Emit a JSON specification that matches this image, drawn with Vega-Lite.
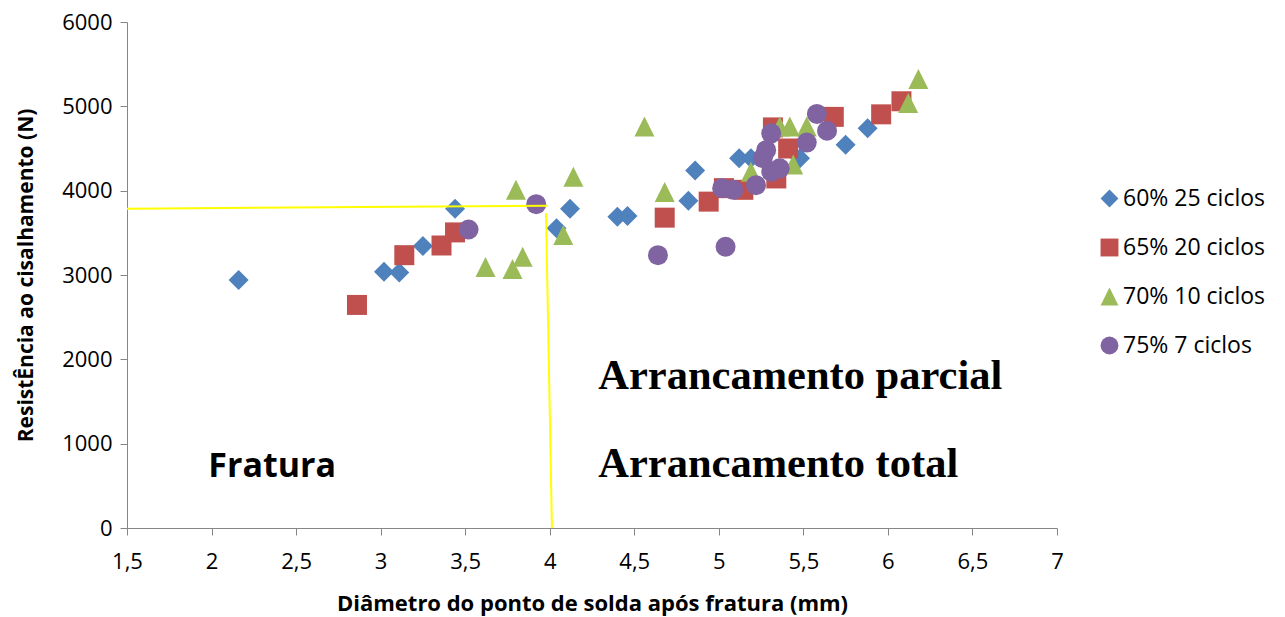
{
  "$schema": "https://vega.github.io/schema/vega-lite/v6.json",
  "width": 930,
  "height": 506,
  "autosize": {"type": "none"},
  "padding": {"left": 127, "top": 22, "right": 228, "bottom": 89},
  "background": "white",
  "config": {"view": {"stroke": null}, "font": "Open Sans"},
  "datasets": {
    "pontos": [
      {"serie": "60% 25 ciclos", "diametro": 2.16, "resistencia": 2940},
      {"serie": "60% 25 ciclos", "diametro": 3.02, "resistencia": 3040},
      {"serie": "60% 25 ciclos", "diametro": 3.11, "resistencia": 3030},
      {"serie": "60% 25 ciclos", "diametro": 3.25, "resistencia": 3345},
      {"serie": "60% 25 ciclos", "diametro": 3.44, "resistencia": 3785},
      {"serie": "60% 25 ciclos", "diametro": 4.04, "resistencia": 3555},
      {"serie": "60% 25 ciclos", "diametro": 4.12, "resistencia": 3785},
      {"serie": "60% 25 ciclos", "diametro": 4.40, "resistencia": 3690},
      {"serie": "60% 25 ciclos", "diametro": 4.46, "resistencia": 3700},
      {"serie": "60% 25 ciclos", "diametro": 4.82, "resistencia": 3880},
      {"serie": "60% 25 ciclos", "diametro": 4.86, "resistencia": 4240},
      {"serie": "60% 25 ciclos", "diametro": 5.12, "resistencia": 4385},
      {"serie": "60% 25 ciclos", "diametro": 5.19, "resistencia": 4385},
      {"serie": "60% 25 ciclos", "diametro": 5.48, "resistencia": 4385},
      {"serie": "60% 25 ciclos", "diametro": 5.75, "resistencia": 4545},
      {"serie": "60% 25 ciclos", "diametro": 5.88, "resistencia": 4740},
      {"serie": "65% 20 ciclos", "diametro": 2.86, "resistencia": 2645},
      {"serie": "65% 20 ciclos", "diametro": 3.14, "resistencia": 3235},
      {"serie": "65% 20 ciclos", "diametro": 3.36, "resistencia": 3350},
      {"serie": "65% 20 ciclos", "diametro": 3.44, "resistencia": 3505},
      {"serie": "65% 20 ciclos", "diametro": 4.68, "resistencia": 3680},
      {"serie": "65% 20 ciclos", "diametro": 4.94, "resistencia": 3870},
      {"serie": "65% 20 ciclos", "diametro": 5.03, "resistencia": 4030},
      {"serie": "65% 20 ciclos", "diametro": 5.145, "resistencia": 4010},
      {"serie": "65% 20 ciclos", "diametro": 5.34, "resistencia": 4145},
      {"serie": "65% 20 ciclos", "diametro": 5.32, "resistencia": 4750},
      {"serie": "65% 20 ciclos", "diametro": 5.41, "resistencia": 4500},
      {"serie": "65% 20 ciclos", "diametro": 5.68, "resistencia": 4875},
      {"serie": "65% 20 ciclos", "diametro": 5.96, "resistencia": 4905},
      {"serie": "65% 20 ciclos", "diametro": 6.08, "resistencia": 5060},
      {"serie": "70% 10 ciclos", "diametro": 3.62, "resistencia": 3095},
      {"serie": "70% 10 ciclos", "diametro": 3.78, "resistencia": 3070},
      {"serie": "70% 10 ciclos", "diametro": 3.80, "resistencia": 4010},
      {"serie": "70% 10 ciclos", "diametro": 3.84, "resistencia": 3215},
      {"serie": "70% 10 ciclos", "diametro": 4.08, "resistencia": 3475},
      {"serie": "70% 10 ciclos", "diametro": 4.14, "resistencia": 4165},
      {"serie": "70% 10 ciclos", "diametro": 4.56, "resistencia": 4760},
      {"serie": "70% 10 ciclos", "diametro": 4.68, "resistencia": 3985},
      {"serie": "70% 10 ciclos", "diametro": 5.19, "resistencia": 4225},
      {"serie": "70% 10 ciclos", "diametro": 5.36, "resistencia": 4760},
      {"serie": "70% 10 ciclos", "diametro": 5.42, "resistencia": 4760},
      {"serie": "70% 10 ciclos", "diametro": 5.52, "resistencia": 4760},
      {"serie": "70% 10 ciclos", "diametro": 5.44, "resistencia": 4310},
      {"serie": "70% 10 ciclos", "diametro": 6.12, "resistencia": 5040},
      {"serie": "70% 10 ciclos", "diametro": 6.18, "resistencia": 5325},
      {"serie": "75% 7 ciclos", "diametro": 3.52, "resistencia": 3540},
      {"serie": "75% 7 ciclos", "diametro": 3.92, "resistencia": 3840},
      {"serie": "75% 7 ciclos", "diametro": 4.64, "resistencia": 3235},
      {"serie": "75% 7 ciclos", "diametro": 5.04, "resistencia": 3335},
      {"serie": "75% 7 ciclos", "diametro": 5.02, "resistencia": 4030},
      {"serie": "75% 7 ciclos", "diametro": 5.085, "resistencia": 4010},
      {"serie": "75% 7 ciclos", "diametro": 5.22, "resistencia": 4065},
      {"serie": "75% 7 ciclos", "diametro": 5.31, "resistencia": 4225},
      {"serie": "75% 7 ciclos", "diametro": 5.36, "resistencia": 4265},
      {"serie": "75% 7 ciclos", "diametro": 5.26, "resistencia": 4385},
      {"serie": "75% 7 ciclos", "diametro": 5.28, "resistencia": 4480},
      {"serie": "75% 7 ciclos", "diametro": 5.31, "resistencia": 4680},
      {"serie": "75% 7 ciclos", "diametro": 5.52, "resistencia": 4570},
      {"serie": "75% 7 ciclos", "diametro": 5.58, "resistencia": 4910},
      {"serie": "75% 7 ciclos", "diametro": 5.64, "resistencia": 4710}
    ],
    "guias": [
      {"linha": "horizontal", "diametro": 1.5, "resistencia": 3785},
      {"linha": "horizontal", "diametro": 3.99, "resistencia": 3822},
      {"linha": "vertical", "diametro": 3.978, "resistencia": 3735},
      {"linha": "vertical", "diametro": 4.013, "resistencia": 0}
    ],
    "rotulos": [
      {"tipo": "serif", "texto": "Arrancamento parcial", "diametro": 4.287, "resistencia": 1645},
      {"tipo": "serif", "texto": "Arrancamento total", "diametro": 4.287, "resistencia": 608},
      {"tipo": "sans", "texto": "Fratura", "diametro": 1.981, "resistencia": 608}
    ]
  },
  "layer": [
    {
      "data": {"name": "pontos"},
      "mark": {"type": "point", "filled": true, "size": 400, "opacity": 1, "strokeWidth": 0},
      "encoding": {
        "x": {
          "field": "diametro",
          "type": "quantitative",
          "scale": {"domain": [1.5, 7], "nice": false, "zero": false},
          "axis": {
            "title": "Diâmetro do ponto de solda após fratura (mm)",
            "values": [1.5, 2, 2.5, 3, 3.5, 4, 4.5, 5, 5.5, 6, 6.5, 7],
            "labelExpr": "replace(format(datum.value, '.1~f'), '.', ',')",
            "labelFlush": false,
            "labelOverlap": false,
            "grid": false,
            "domainColor": "#868686",
            "tickColor": "#868686",
            "tickSize": 7,
            "labelFontSize": 22,
            "labelColor": "#000000",
            "labelPadding": 16,
            "titleFontSize": 22,
            "titleFontWeight": "bold",
            "titleColor": "#000000",
            "titleBaseline": "alphabetic",
            "titleY": 82
          }
        },
        "y": {
          "field": "resistencia",
          "type": "quantitative",
          "scale": {"domain": [0, 6000], "nice": false},
          "axis": {
            "title": "ResistÊncia ao cisalhamento (N)",
            "values": [0, 1000, 2000, 3000, 4000, 5000, 6000],
            "format": "d",
            "labelOverlap": false,
            "grid": false,
            "domainColor": "#868686",
            "tickColor": "#868686",
            "tickSize": 7,
            "labelFontSize": 22,
            "labelColor": "#000000",
            "labelPadding": 8,
            "titleFontSize": 21,
            "titleFontWeight": "bold",
            "titleColor": "#000000",
            "titleBaseline": "alphabetic",
            "titleX": -95,
            "titleY": 253
          }
        },
        "color": {
          "field": "serie",
          "type": "nominal",
          "scale": {
            "domain": ["60% 25 ciclos", "65% 20 ciclos", "70% 10 ciclos", "75% 7 ciclos"],
            "range": ["#4F81BD", "#C0504D", "#9BBB59", "#8064A2"]
          },
          "legend": {
            "title": null,
            "orient": "none",
            "legendX": 971,
            "legendY": 165,
            "padding": 0,
            "labelFontSize": 23,
            "labelColor": "#000000",
            "labelFont": "Open Sans",
            "symbolSize": 320,
            "symbolStrokeWidth": 0,
            "rowPadding": 25,
            "labelOffset": 2
          }
        },
        "shape": {
          "field": "serie",
          "type": "nominal",
          "scale": {
            "domain": ["60% 25 ciclos", "65% 20 ciclos", "70% 10 ciclos", "75% 7 ciclos"],
            "range": ["diamond", "square", "M0,-1L1,1L-1,1Z", "circle"]
          }
        }
      }
    },
    {
      "data": {"name": "guias"},
      "mark": {"type": "line", "color": "#FFFF00", "strokeWidth": 2},
      "encoding": {
        "x": {"field": "diametro", "type": "quantitative"},
        "y": {"field": "resistencia", "type": "quantitative"},
        "detail": {"field": "linha", "type": "nominal"}
      }
    },
    {
      "data": {"name": "rotulos"},
      "transform": [{"filter": "datum.tipo === 'serif'"}],
      "mark": {"type": "text", "font": "Liberation Serif", "fontSize": 42.5, "fontWeight": "bold", "align": "left", "baseline": "alphabetic", "color": "#000000"},
      "encoding": {
        "x": {"field": "diametro", "type": "quantitative"},
        "y": {"field": "resistencia", "type": "quantitative"},
        "text": {"field": "texto"}
      }
    },
    {
      "data": {"name": "rotulos"},
      "transform": [{"filter": "datum.tipo === 'sans'"}],
      "mark": {"type": "text", "font": "Open Sans", "fontSize": 34, "fontWeight": "bold", "align": "left", "baseline": "alphabetic", "color": "#000000"},
      "encoding": {
        "x": {"field": "diametro", "type": "quantitative"},
        "y": {"field": "resistencia", "type": "quantitative"},
        "text": {"field": "texto"}
      }
    }
  ]
}
